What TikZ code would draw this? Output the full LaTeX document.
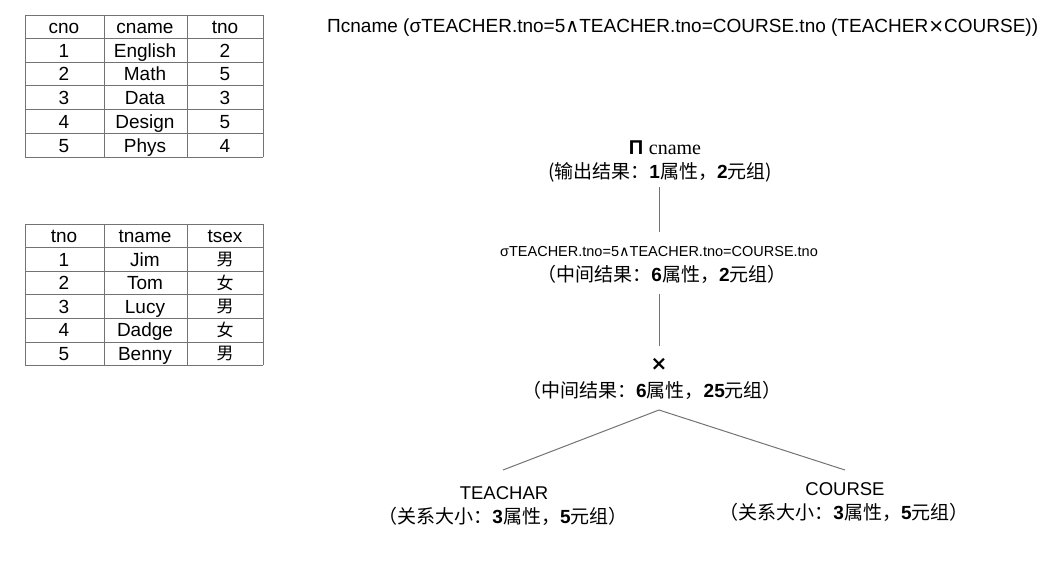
\documentclass[tikz,border=0pt]{standalone}
\usepackage{fontspec}
\setmainfont{Liberation Sans}
\newfontfamily\cjk{Noto Sans CJK SC}
\newfontfamily\seriffam{Liberation Serif}
\newfontfamily\symfam{DejaVu Sans}
\newcommand{\dg}[1]{{\rmfamily\bfseries #1}}
\begin{document}
\begin{tikzpicture}[x=1pt,y=-1pt,
  grid/.style={draw=black!55,line width=0.9pt},
  cell/.style={font=\fontsize{19}{19}\selectfont,inner sep=0pt,anchor=base},
  ccell/.style={font=\cjk\fontsize{17}{17}\selectfont,inner sep=0pt,anchor=base},
  lbl/.style={font=\cjk\fontsize{19}{19}\selectfont,inner sep=0pt,anchor=center},
  conn/.style={draw=black!55,line width=1pt}]
\useasboundingbox (0,0) rectangle (1062,560);
% table 1
\foreach \y in {15,38,62,85,109,133,157} \draw[grid] (25,\y) -- (263,\y);
\foreach \x in {25,104,187,263} \draw[grid] (\x,15) -- (\x,157);
\foreach \r/\a/\b [count=\i from 0] in {cno/cname/tno,1/English/2,2/Math/5,3/Data/3,4/Design/5,5/Phys/4}{
  \node[cell] (ta\i a) at (64,{33.5+23.7*\i}) {\r};
  \node[cell] (ta\i b) at (145,{33.5+23.7*\i}) {\a};
  \node[cell] (ta\i c) at (225,{33.5+23.7*\i}) {\b};
}
% table 2
\foreach \y in {224,247,271,294,318,342,365} \draw[grid] (25,\y) -- (263,\y);
\foreach \x in {25,104,187,263} \draw[grid] (\x,224) -- (\x,365);
\node[cell] (tb0a) at (64,242.5) {tno};
\node[cell] (tb0b) at (145,242.5) {tname};
\node[cell] (tb0c) at (225,242.5) {tsex};
\foreach \a/\b/\c [count=\i] in {1/Jim/男,2/Tom/女,3/Lucy/男,4/Dadge/女,5/Benny/男}{
  \node[cell] (tb\i a) at (64,{242.5+23.5*\i}) {\a};
  \node[cell] (tb\i b) at (145,{242.5+23.5*\i}) {\b};
  \node[ccell] (tb\i c) at (225,{242+23.5*\i}) {\c};
}
% title
\node[inner sep=0pt,anchor=west,font=\fontsize{19}{19}\selectfont] (title) at (327,28)
  {Π{}cname (σTEACHER.tno=5{\symfam∧}TEACHER.tno=COURSE.tno (TEACHER{\symfam×}COURSE))};
% tree
\node[inner sep=0pt,font=\fontsize{20}{20}\selectfont] (pi) at (665,148) {\textbf{Π}\ {\seriffam cname}};
\node[lbl] (pil) at (660,172) {(输出结果：\dg{1}属性，\dg{2}元组)};
\node[inner sep=0pt,font=\fontsize{14.5}{14.5}\selectfont] (sig) at (659,252) {σTEACHER.tno=5{\symfam∧}TEACHER.tno=COURSE.tno};
\node[lbl] (sigl) at (662,274) {（中间结果：\dg{6}属性，\dg{2}元组）};
\node[inner sep=0pt,font=\symfam\bfseries\fontsize{20}{20}\selectfont] (x) at (659,364) {×};
\node[lbl] (xl) at (652,390) {（中间结果：\dg{6}属性，\dg{25}元组）};
\node[inner sep=0pt,font=\fontsize{18.5}{18.5}\selectfont] (t) at (504,493) {TEACHAR};
\node[lbl] (tl) at (503,516) {（关系大小：\dg{3}属性，\dg{5}元组）};
\node[inner sep=0pt,font=\fontsize{18.5}{18.5}\selectfont] (c) at (845,489) {COURSE};
\node[lbl] (cl) at (844,512) {（关系大小：\dg{3}属性，\dg{5}元组）};
\coordinate (a1) at (659,187); \coordinate (a2) at (659,232);
\coordinate (b1) at (659,294); \coordinate (b2) at (659,346);
\coordinate (apex) at (659,410); \coordinate (lt) at (503,470); \coordinate (rt) at (845,470);
\draw[conn] (a1) -- (a2);
\draw[conn] (b1) -- (b2);
\draw[conn] (lt) -- (apex) -- (rt);
\end{tikzpicture}
\end{document}
